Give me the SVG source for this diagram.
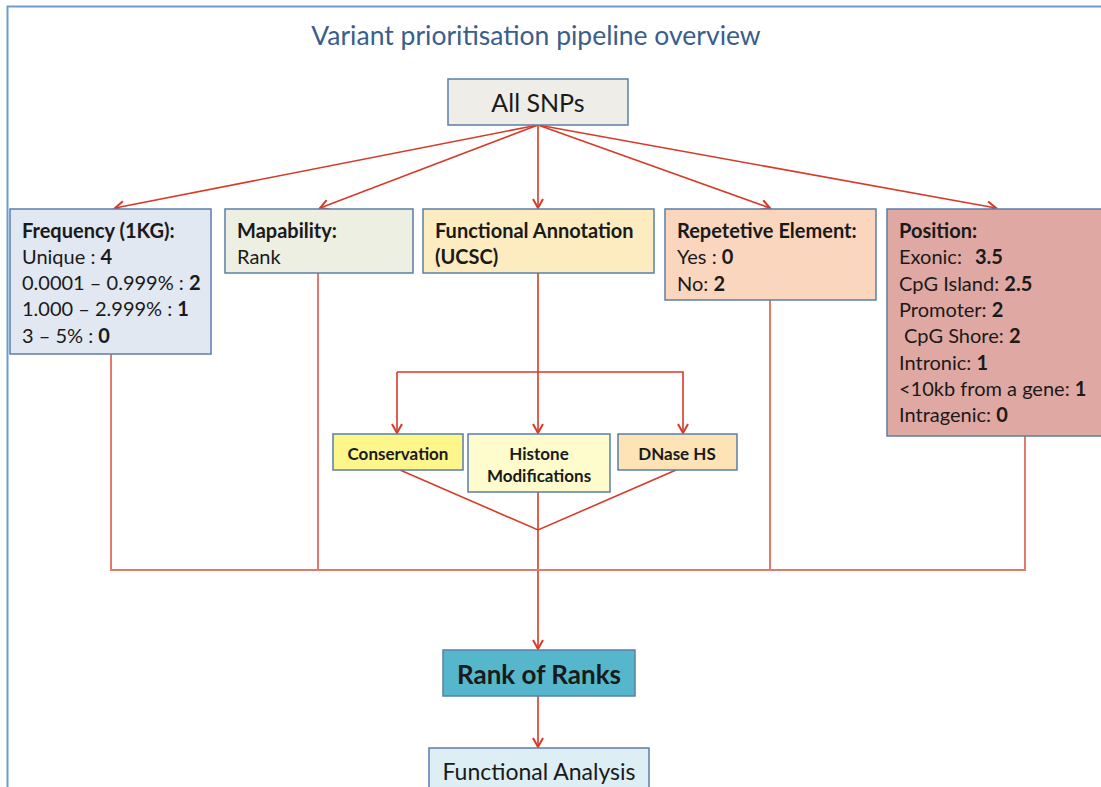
<svg xmlns="http://www.w3.org/2000/svg" width="1101" height="787" viewBox="0 0 1101 787">
<defs>
<marker id="arr" markerWidth="14" markerHeight="14" refX="10" refY="6" orient="auto" markerUnits="userSpaceOnUse">
<path d="M1,1 L10,6 L1,11" fill="none" stroke="#d63a28" stroke-width="2"/>
</marker>
<style>
.box{stroke:#5b7fa8;stroke-width:1.5}
.t{font-family:Lato,"Open Sans","Liberation Sans",sans-serif;fill:#1a1a1a}
.b{font-weight:bold}
.c{stroke:#d63a28;stroke-width:1.6;fill:none}
.m{stroke:#e07a6c;stroke-width:2;fill:none}
</style>
</defs>
<rect width="1101" height="787" fill="#fff"/>
<path d="M7.5,787 V6.5 H1101" fill="none" stroke="#6f9bd0" stroke-width="2"/>
<text class="t" x="536" y="45" text-anchor="middle" font-size="26.5" style="fill:#3a5e8c">Variant prioritisation pipeline overview</text>

<g id="connectors">
<line class="c" x1="538" y1="125" x2="115" y2="208" marker-end="url(#arr)"/>
<line class="c" x1="538" y1="125" x2="320" y2="208" marker-end="url(#arr)"/>
<line class="c" x1="538" y1="125" x2="538" y2="208" marker-end="url(#arr)"/>
<line class="c" x1="538" y1="125" x2="770" y2="208" marker-end="url(#arr)"/>
<line class="c" x1="538" y1="125" x2="996" y2="208" marker-end="url(#arr)"/>
<line class="c" x1="538" y1="273" x2="538" y2="433" marker-end="url(#arr)"/>
<path class="c" d="M397,372 H683 V433" marker-end="url(#arr)"/>
<line class="c" x1="397" y1="372" x2="397" y2="433" marker-end="url(#arr)"/>
<path class="c" d="M400,470 L538,530 L676,470"/>
<line class="c" x1="538" y1="492" x2="538" y2="649" stroke-width="2.2" marker-end="url(#arr)"/>
<path class="m" d="M111,354 V570 H1025 V436"/>
<line class="m" x1="318" y1="273" x2="318" y2="570"/>
<line class="m" x1="770" y1="300" x2="770" y2="570"/>
<line class="c" x1="538" y1="696" x2="538" y2="747" marker-end="url(#arr)"/>
</g>

<g id="all-snps">
<rect class="box" x="448" y="79" width="180" height="46" fill="#eeede7"/>
<text class="t" x="538" y="112" text-anchor="middle" font-size="25">All SNPs</text>
</g>

<g id="frequency">
<rect class="box" x="10" y="209" width="201" height="145" fill="#e1e8f1"/>
<text class="t" font-size="20"><tspan class="b" x="22" y="238">Frequency (1KG):</tspan><tspan x="22" y="264">Unique : <tspan class="b">4</tspan></tspan><tspan x="22" y="290">0.0001 – 0.999% : <tspan class="b">2</tspan></tspan><tspan x="22" y="316">1.000 – 2.999% : <tspan class="b">1</tspan></tspan><tspan x="22" y="343">3 – 5% : <tspan class="b">0</tspan></tspan></text>
</g>

<g id="mapability">
<rect class="box" x="225" y="209" width="188" height="64" fill="#ecefe2"/>
<text class="t" font-size="20"><tspan class="b" x="237" y="238">Mapability:</tspan><tspan x="237" y="264">Rank</tspan></text>
</g>

<g id="functional-annotation">
<rect class="box" x="423" y="209" width="231" height="64" fill="#fdecc0"/>
<text class="t b" font-size="20"><tspan x="435" y="238">Functional Annotation</tspan><tspan x="435" y="264">(UCSC)</tspan></text>
</g>

<g id="repetitive">
<rect class="box" x="665" y="209" width="211" height="91" fill="#fad6bf"/>
<text class="t" font-size="20"><tspan class="b" x="677" y="238">Repetetive Element:</tspan><tspan x="677" y="264">Yes : <tspan class="b">0</tspan></tspan><tspan x="677" y="291">No: <tspan class="b">2</tspan></tspan></text>
</g>

<g id="position">
<rect class="box" x="887" y="209" width="220" height="227" fill="#e0a8a2"/>
<text class="t" font-size="20"><tspan class="b" x="899" y="238">Position:</tspan><tspan x="899" y="264">Exonic:</tspan><tspan class="b" x="975" y="264">3.5</tspan><tspan x="899" y="291">CpG Island: <tspan class="b">2.5</tspan></tspan><tspan x="899" y="317">Promoter: <tspan class="b">2</tspan></tspan><tspan x="904" y="343">CpG Shore: <tspan class="b">2</tspan></tspan><tspan x="899" y="370">Intronic: <tspan class="b">1</tspan></tspan><tspan x="899" y="396">&lt;10kb from a gene: <tspan class="b">1</tspan></tspan><tspan x="899" y="422">Intragenic: <tspan class="b">0</tspan></tspan></text>
</g>

<g id="conservation">
<rect class="box" x="333" y="434" width="130" height="36" fill="#fdf68b"/>
<text class="t b" x="398" y="460" text-anchor="middle" font-size="17">Conservation</text>
</g>

<g id="histone">
<rect class="box" x="468" y="434" width="142" height="58" fill="#fefccc"/>
<text class="t b" text-anchor="middle" font-size="17"><tspan x="539" y="460">Histone</tspan><tspan x="539" y="482">Modifications</tspan></text>
</g>

<g id="dnase">
<rect class="box" x="618" y="434" width="119" height="36" fill="#fde3b5"/>
<text class="t b" x="677" y="460" text-anchor="middle" font-size="17">DNase HS</text>
</g>

<g id="rank-of-ranks">
<rect class="box" x="443" y="650" width="192" height="46" fill="#55b6cc"/>
<text class="t b" x="539" y="684" text-anchor="middle" font-size="26">Rank of Ranks</text>
</g>

<g id="functional-analysis">
<rect class="box" x="429" y="748" width="220" height="50" fill="#ddeef4"/>
<text class="t" x="539" y="780" text-anchor="middle" font-size="23">Functional Analysis</text>
</g>
</svg>
